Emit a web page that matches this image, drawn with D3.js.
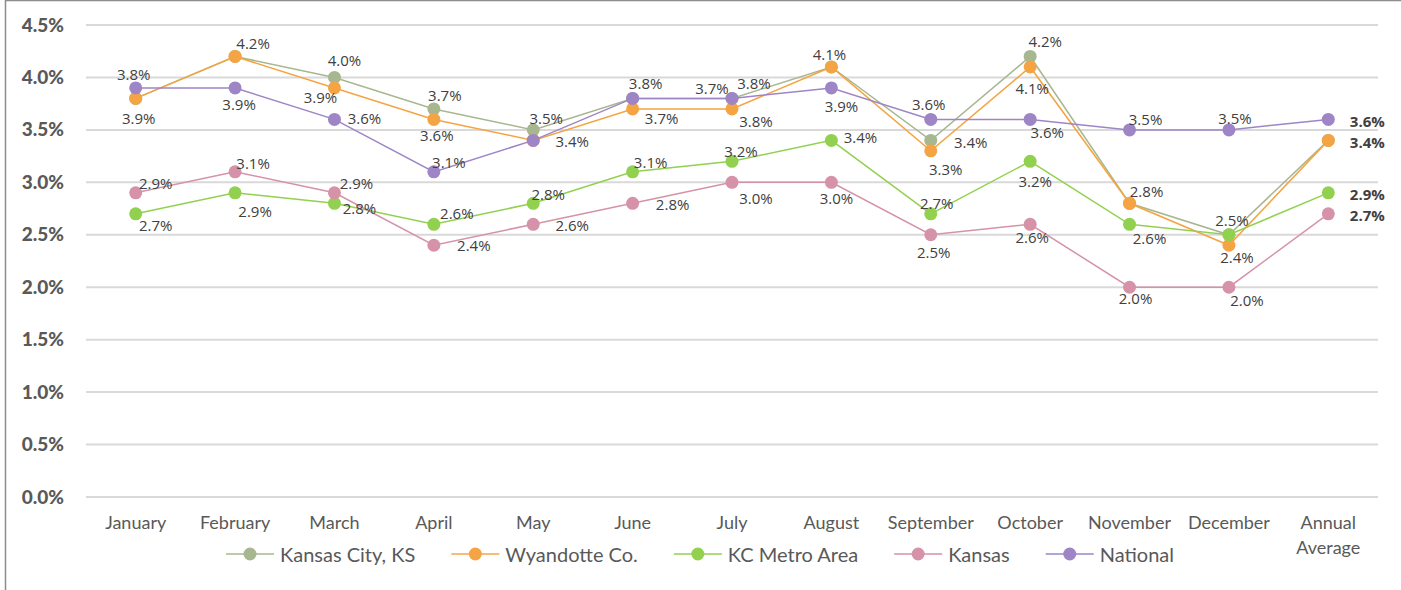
<!DOCTYPE html>
<html>
<head>
<meta charset="utf-8">
<script src="https://cdn.jsdelivr.net/npm/d3@7"></script>
<style>
  html, body { margin: 0; padding: 0; background: #fff; }
  svg { display: block; }
</style>
</head>
<body>
<svg id="chart" width="1401" height="590"></svg>
<script>
// ---------------- DATA ----------------
const categories = ["January", "February", "March", "April", "May", "June", "July",
  "August", "September", "October", "November", "December", "Annual Average"];

const seriesNames = ["Kansas City, KS", "Wyandotte Co.", "KC Metro Area", "Kansas", "National"];

const kansasCityKS = [3.8, 4.2, 4.0, 3.7, 3.5, 3.8, 3.8, 4.1, 3.4, 4.2, 2.8, 2.5, 3.4];
const wyandotteCo  = [3.8, 4.2, 3.9, 3.6, 3.4, 3.7, 3.7, 4.1, 3.3, 4.1, 2.8, 2.4, 3.4];
const kcMetroArea  = [2.7, 2.9, 2.8, 2.6, 2.8, 3.1, 3.2, 3.4, 2.7, 3.2, 2.6, 2.5, 2.9];
const kansas       = [2.9, 3.1, 2.9, 2.4, 2.6, 2.8, 3.0, 3.0, 2.5, 2.6, 2.0, 2.0, 2.7];
const national     = [3.9, 3.9, 3.6, 3.1, 3.4, 3.8, 3.8, 3.9, 3.6, 3.6, 3.5, 3.5, 3.6];

const yTicks = [0, 0.5, 1.0, 1.5, 2.0, 2.5, 3.0, 3.5, 4.0, 4.5];

// ---------------- STYLE / LAYOUT ----------------
const colors = ["#a7b78f", "#f5a444", "#92d14f", "#d692a8", "#9d85c6"];

// data-label placement (offset of label centre from its point, like the
// hand-placed labels of the original); null = label not shown
const labelOffsets = [
  [[-2,-24], null, [10,-17], [11,-14], [13,-12], null, [22,-15], null, [40,2], [15,-15], null, null, null],
  [null, [18,-13], [-14,9], [3,16], [39,1], [29,9], [-20,-21], [-2,-13], [15,18], [2,21], [17,-12], [8,12], [39,2]],
  [[20,11], [20,18], [25,5], [23,-11], [15,-9], [18,-10], [9,-10], [29,-3], [6,-11], [5,20], [20,14], [3,-15], [39,1]],
  [[20,-10], [18,-9], [22,-10], [40,0], [39,1], [40,1], [24,16], [5,16], [3,17], [2,13], [6,11], [18,13], [39,1]],
  [[3,30], [4,16], [30,-1], [15,-10], null, [13,-15], [24,23], [10,18], [-2,-15], [17,13], [16,-11], [6,-12], [39,2]]
];

const allSeries = [kansasCityKS, wyandotteCo, kcMetroArea, kansas, national];

const svg = d3.select("#chart");
const plot = { left: 86, right: 1378, top: 25, bottom: 497 };

// border (top + left visible)
svg.append("rect")
  .attr("x", 5.5).attr("y", 0.5)
  .attr("width", 1500).attr("height", 700)
  .attr("fill", "none").attr("stroke", "#8c8c8c").attr("stroke-width", 1.5);

const x = d3.scaleBand().domain(categories).range([plot.left, plot.right]);
const cx = c => x(c) + x.bandwidth() / 2;
const y = d3.scaleLinear().domain([0, 4.5]).range([plot.bottom, plot.top]);

// gridlines
svg.append("g")
  .selectAll("line")
  .data(yTicks)
  .join("line")
  .attr("x1", plot.left).attr("x2", plot.right)
  .attr("y1", d => y(d)).attr("y2", d => y(d))
  .attr("stroke", "#d9d9d9").attr("stroke-width", 2);

// y axis labels
const yAxis = d3.axisLeft(y).tickValues(yTicks).tickFormat(d => d.toFixed(1) + "%").tickSize(0).tickPadding(0);
const yg = svg.append("g").attr("transform", `translate(64,0)`).call(yAxis);
yg.select(".domain").remove();
yg.selectAll("text")
  .attr("font-family", "Lato, 'Open Sans', sans-serif")
  .attr("font-size", 19).attr("font-weight", "900")
  .attr("fill", "#595959");

// x axis labels
const xAxis = d3.axisBottom(x).tickSize(0).tickPadding(0);
const xg = svg.append("g").attr("transform", `translate(0,${plot.bottom})`).call(xAxis);
xg.select(".domain").remove();
xg.selectAll(".tick text").each(function(d) {
  const t = d3.select(this);
  t.text(null)
   .attr("font-family", "Lato, 'Open Sans', sans-serif")
   .attr("font-size", 18).attr("fill", "#595959")
   .attr("y", 0).attr("dy", null);
  const words = d === "Annual Average" ? ["Annual", "Average"] : [d];
  words.forEach((w, i) => {
    t.append("tspan").attr("x", 0).attr("y", 32 + i * 25).text(w);
  });
});

// lines + markers
const line = d3.line().x((d, i) => cx(categories[i])).y(d => y(d));
allSeries.forEach((vals, s) => {
  const g = svg.append("g");
  g.append("path").datum(vals)
    .attr("d", line).attr("fill", "none")
    .attr("stroke", colors[s]).attr("stroke-width", 1.5);
  g.selectAll("circle").data(vals).join("circle")
    .attr("cx", (d, i) => cx(categories[i]))
    .attr("cy", d => y(d))
    .attr("r", 6.5)
    .attr("fill", colors[s]);
});

// data labels
const lg = svg.append("g");
allSeries.forEach((vals, s) => {
  vals.forEach((v, i) => {
    const off = labelOffsets[s][i];
    if (!off) return;
    const isAvg = i === categories.length - 1;
    lg.append("text")
      .attr("x", cx(categories[i]) + off[0])
      .attr("y", y(v) + off[1])
      .attr("text-anchor", "middle")
      .attr("dominant-baseline", "central")
      .attr("font-family", "'Open Sans', sans-serif")
      .attr("font-size", 15)
      .attr("font-weight", isAvg ? "bold" : "normal")
      .attr("fill", "#404040")
      .text(v.toFixed(1) + "%");
  });
});

// legend
const legend = svg.append("g");
let lx = 0;
seriesNames.forEach((name, s) => {
  const g = legend.append("g");
  g.append("line").attr("x1", 0).attr("x2", 48).attr("y1", 0).attr("y2", 0)
    .attr("stroke", colors[s]).attr("stroke-width", 1.5);
  g.append("circle").attr("cx", 24).attr("cy", 0).attr("r", 6.5).attr("fill", colors[s]);
  const t = g.append("text").attr("x", 54).attr("y", 0)
    .attr("dominant-baseline", "central")
    .attr("font-family", "Lato, 'Open Sans', sans-serif")
    .attr("font-size", 20).attr("fill", "#595959").text(name);
  const w = 54 + t.node().getComputedTextLength();
  g.attr("transform", `translate(${lx},0)`);
  lx += w + 36;
});
const totalW = lx - 36;
legend.attr("transform", `translate(${700 - totalW / 2},554)`);
</script>
</body>
</html>
